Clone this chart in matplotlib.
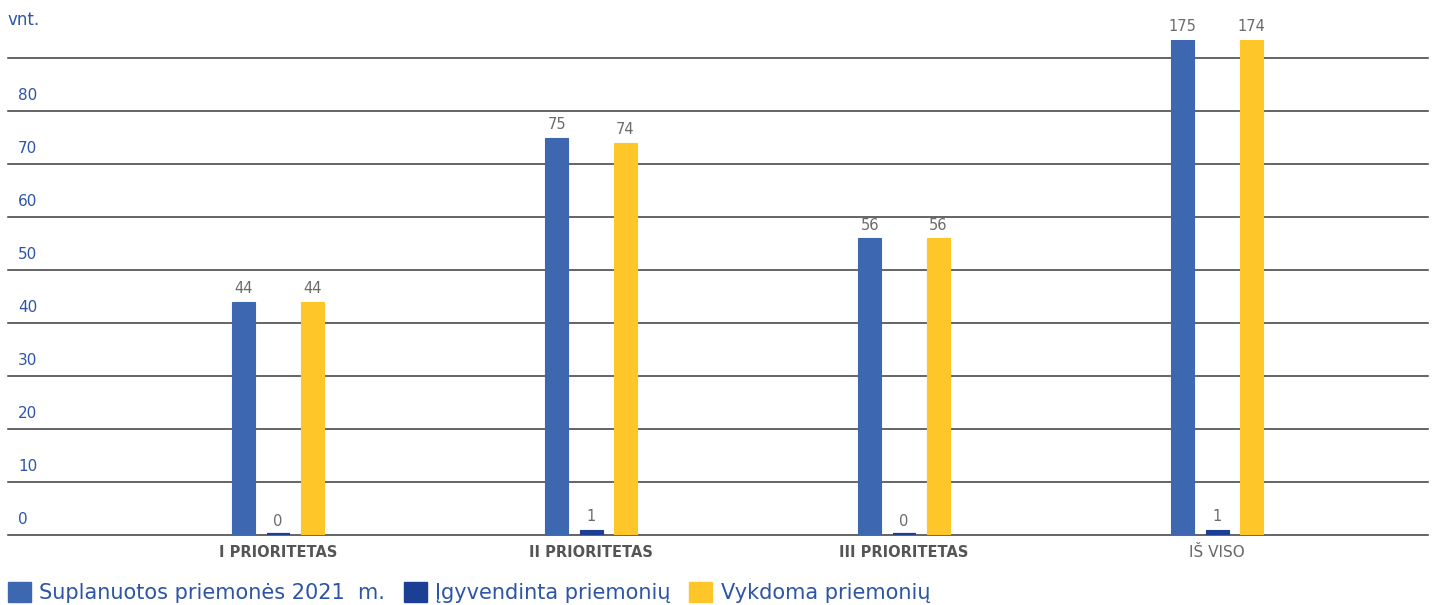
import matplotlib
matplotlib.use("Agg")
import matplotlib.pyplot as plt
from matplotlib.patches import Patch
from matplotlib.transforms import blended_transform_factory
import numpy as np

categories = ["I PRIORITETAS", "II PRIORITETAS", "III PRIORITETAS", "IŠ VISO"]
cat_bold = [True, True, True, False]
series_names = ["Suplanuotos priemonės 2021  m.", "Įgyvendinta priemonių", "Vykdoma priemonių"]
planned = [44, 75, 56, 175]
done = [0, 1, 0, 1]
ongoing = [44, 74, 56, 174]
yticks = [0, 10, 20, 30, 40, 50, 60, 70, 80]
gridlines = [0, 10, 20, 30, 40, 50, 60, 70, 80, 90]
unit_label = "vnt."

colors = ["#3D67B1", "#1B3F94", "#FFC629"]
tick_color = "#2D55A5"
val_color = "#6B6B6B"

plt.rcParams['font.family'] = ['DejaVu Sans']
W, H = 1453, 605
fig = plt.figure(figsize=(W / 100, H / 100), dpi=100)
ax = fig.add_axes([8 / W, 70 / H, 1420 / W, 495 / H])

x = np.arange(len(categories))
bw = 0.0735
off = 0.11
ytop = 93.4

ax.set_xlim(-0.863, 3.674)
ax.set_ylim(0, ytop)

for v in gridlines:
    ax.axhline(v, color="#3a3a3a", lw=1.1, zorder=1, clip_on=False)

all_series = [planned, done, ongoing]
for i, (vals, c) in enumerate(zip(all_series, colors)):
    xs = x + (i - 1) * off
    ax.bar(xs, vals, width=bw, color=c, edgecolor=c, linewidth=0.8, zorder=3)
    for xi, v in zip(xs, vals):
        if v == 0:
            # zero-height bar shown as a thin baseline stroke, as in the original
            ax.plot([xi - bw / 2, xi + bw / 2], [0.15, 0.15], color=c, lw=1.6,
                    solid_capstyle="butt", zorder=4)
        ax.annotate(str(v), (xi, min(v, ytop)), xytext=(0, 4), textcoords="offset points",
                    ha="center", va="bottom", fontsize=10.5, color=val_color, annotation_clip=False)

trans = blended_transform_factory(ax.transAxes, ax.transData)
for t in yticks:
    ax.text(10 / 1420, t + 1.6, str(t), transform=trans, ha="left", va="bottom",
            fontsize=11, color=tick_color)

for xi, lab, b in zip(x, categories, cat_bold):
    ax.annotate(lab, (xi, 0), xytext=(0, -7), textcoords="offset points",
                ha="center", va="top", fontsize=10.5 if b else 11,
                fontweight="bold" if b else "normal",
                color="#555555" if b else "#666666", annotation_clip=False)

for s in ax.spines.values():
    s.set_visible(False)
ax.set_xticks([])
ax.set_yticks([])

fig.text(8 / W, 1 - 20 / H, unit_label, ha="left", va="center", fontsize=12, color=tick_color)

handles = [Patch(facecolor=c, edgecolor=c) for c in colors]
fig.legend(handles, series_names, loc="upper left", bbox_to_anchor=(8 / W, 1 - 582 / H),
           ncol=3, frameon=False, fontsize=15, borderpad=0, borderaxespad=0,
           handlelength=1.1, handleheight=1.1, handletextpad=0.4, columnspacing=0.9,
           labelcolor=tick_color)

fig.savefig("out.png", dpi=100)
